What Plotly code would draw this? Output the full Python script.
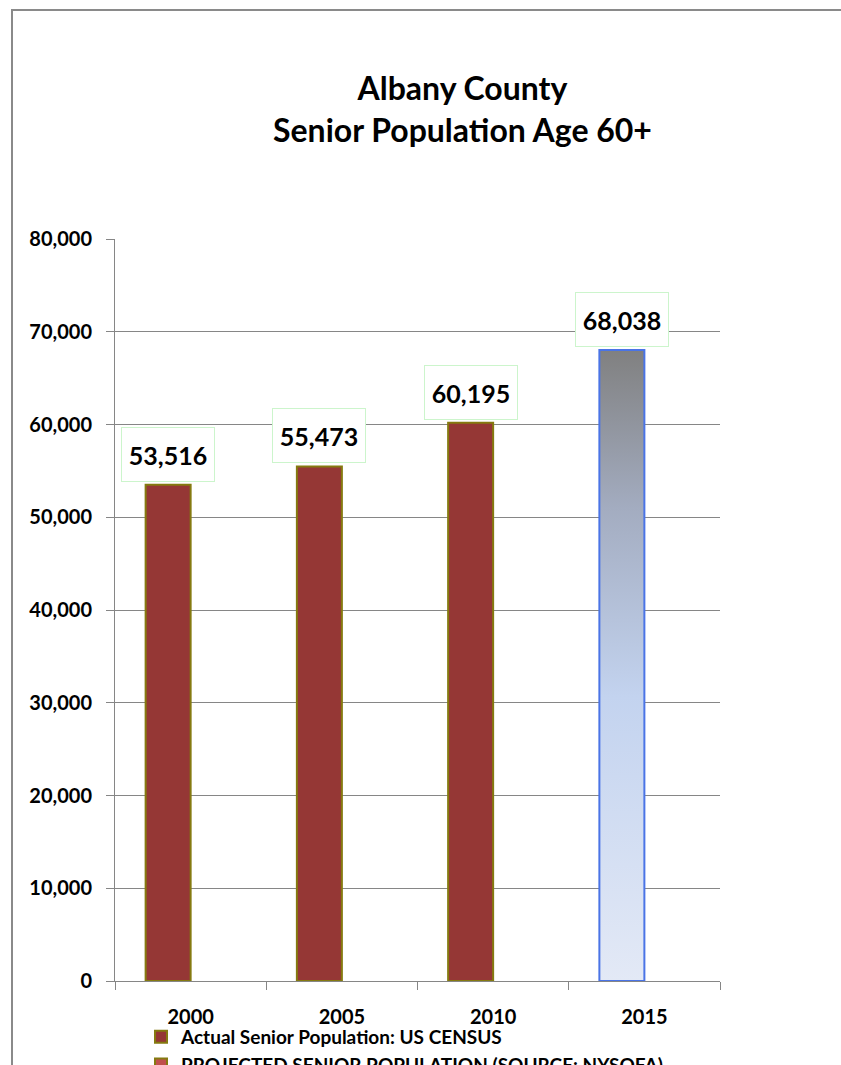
import plotly.graph_objects as go

# ---- data ----
years = ["2000", "2005", "2010", "2015"]
values = [53516, 55473, 60195, 68038]
is_projected = [False, False, False, True]
series_actual = "Actual Senior Population: US CENSUS"
series_projected = "PROJECTED SENIOR POPULATION (SOURCE: NYSOFA)"
title_lines = ["Albany County", "Senior Population Age 60+"]
y_ticks = [0, 10000, 20000, 30000, 40000, 50000, 60000, 70000, 80000]

# ---- geometry / style ----
W, H = 841, 1065
L, R, T, B = 115, 121, 239, 84
PW, PH = W - L - R, H - T - B
bw = 0.2975  # bar width in category units (first slot of a two-slot cluster)
FONT = "Lato"
dark_red = "#953735"
light_red = "#c0504d"
olive = "#857a10"
grid = "#868686"


def px_x(p):
    return (p - L) / PW


def px_y(p):
    return (H - B - p) / PH


idx = list(range(len(years)))
bar_centers = [i - bw / 2 for i in idx]

fig = go.Figure()

# actual bars
fig.add_trace(go.Bar(
    x=[i for i, p in zip(idx, is_projected) if not p],
    y=[v for v, p in zip(values, is_projected) if not p],
    width=bw, offset=-bw,
    marker=dict(color=dark_red, line=dict(color=olive, width=2)),
    name=series_actual, showlegend=True,
))
# projected series (legend entry; its slot is empty in the chart)
fig.add_trace(go.Bar(
    x=[idx[-1]], y=[None], width=bw, offset=0,
    marker=dict(color=light_red, line=dict(color=olive, width=2)),
    name=series_projected, showlegend=True,
))

# gradient-filled projected bar, outline from the data value
for i, v, p in zip(idx, values, is_projected):
    if not p:
        continue
    xs = [i - bw, i, i, i - bw, i - bw]
    ys = [0, 0, v, v, 0]
    fig.add_trace(go.Scatter(
        x=xs, y=ys, mode="lines", fill="toself",
        line=dict(color="#4a74e6", width=2),
        fillgradient=dict(type="vertical", start=0, stop=v,
                          colorscale=[[0, "#e3e9f6"], [0.45, "#c3d3ef"],
                                      [0.75, "#a3acc0"], [1, "#808080"]]),
        showlegend=False, hoverinfo="skip",
    ))

# data labels
for c, v in zip(bar_centers, values):
    fig.add_annotation(
        x=c, y=v, xref="x", yref="y", text=f"<b>{v:,}</b>",
        showarrow=False, yanchor="bottom", yshift=3,
        font=dict(family=FONT, size=25, color="black"),
        bgcolor="white", bordercolor="#ccf5cc", borderwidth=1, borderpad=0,
        width=92, height=53,
    )

# title
fig.add_annotation(
    x=px_x(462), y=px_y(108),
    xref="paper", yref="paper", showarrow=False,
    text="<b>" + "<br>".join(title_lines) + "</b>",
    font=dict(family=FONT, size=32, color="black"), align="center",
    yanchor="middle", xanchor="center",
)

# chart frame
fig.add_shape(type="rect", xref="paper", yref="paper",
              x0=px_x(12), x1=px_x(W + 20),
              y0=px_y(H + 30), y1=px_y(10),
              line=dict(color="#8a8a8a", width=2), layer="below")

fig.update_layout(
    width=W, height=H,
    margin=dict(l=L, r=R, t=T, b=B, autoexpand=False),
    paper_bgcolor="white", plot_bgcolor="white",
    barmode="overlay",
    showlegend=True,
    legend=dict(x=px_x(141), y=px_y(1018),
                xanchor="left", yanchor="top", bgcolor="rgba(0,0,0,0)",
                font=dict(family=FONT, size=19, color="black", weight="bold"),
                tracegroupgap=0, itemwidth=30),
    font=dict(family=FONT),
)

fig.update_xaxes(
    range=[-0.5, 3.5], tickmode="array", tickvals=idx,
    ticktext=[f"<b>{y}</b>" for y in years], ticks="",
    tickfont=dict(family=FONT, size=20, color="black"),
    showline=True, linecolor=grid, linewidth=1, showgrid=False,
    zeroline=False, ticklabelstandoff=18,
    minor=dict(tickmode="linear", tick0=-0.5, dtick=1, ticks="outside",
               ticklen=8, tickcolor=grid, showgrid=False),
    fixedrange=True,
)
fig.update_yaxes(
    range=[0, 80000], tickmode="array", tickvals=y_ticks,
    ticktext=[f"<b>{t:,}</b>" for t in y_ticks],
    ticks="outside", ticklen=8, tickcolor=grid,
    tickfont=dict(family=FONT, size=20, color="black"),
    showline=True, linecolor=grid, linewidth=1,
    showgrid=True, gridcolor=grid, gridwidth=1, zeroline=False,
    ticklabelstandoff=10,
)

fig.write_html("out.html")
